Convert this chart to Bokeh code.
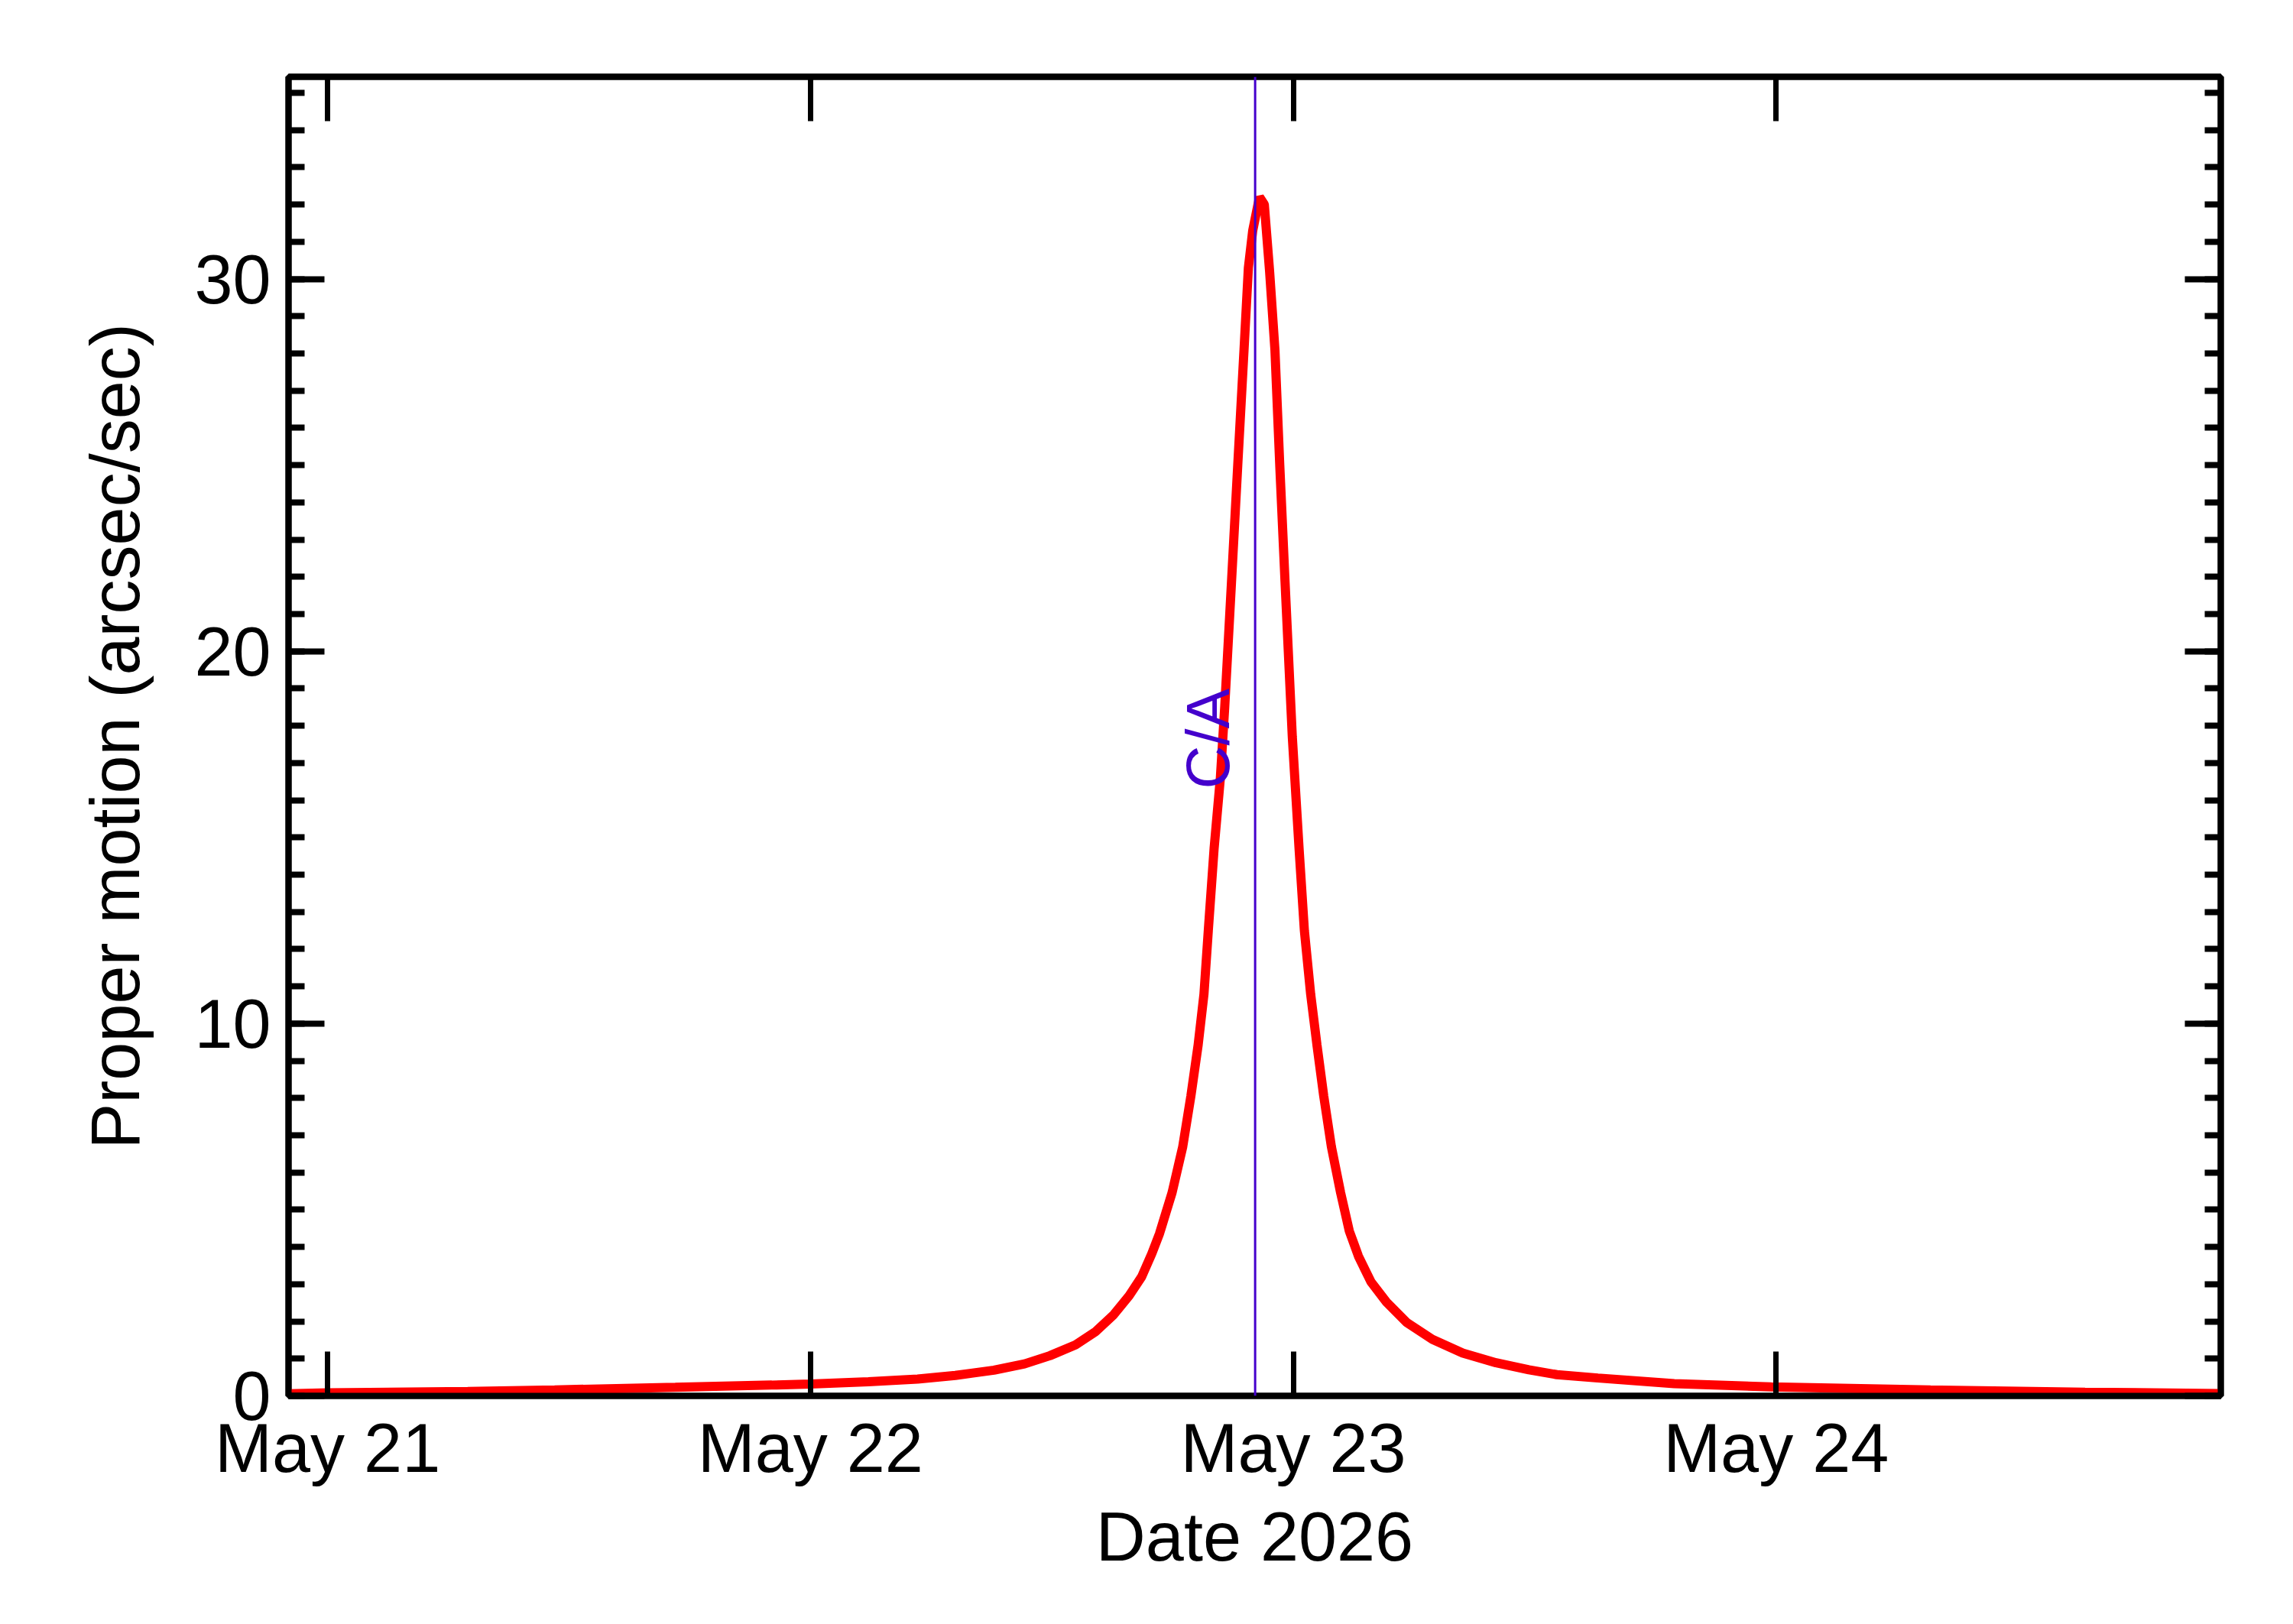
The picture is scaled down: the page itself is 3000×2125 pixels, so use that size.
from bokeh.plotting import figure
from bokeh.models import (Range1d, LinearAxis, SingleIntervalTicker, FixedTicker,
                          Span, Label, CustomLabelingPolicy)
from bokeh.embed import file_html
from bokeh.resources import INLINE

# days since 2026-05-21 00:00 and proper motion (arcsec/sec)
days = [-0.081, 0.0, 0.29, 0.47, 0.72, 0.92, 1.0, 1.12, 1.222, 1.30, 1.38,
        1.4435, 1.496, 1.549, 1.591, 1.628, 1.660, 1.686, 1.707, 1.723, 1.736,
        1.749, 1.771, 1.788, 1.803, 1.815, 1.824, 1.836, 1.849, 1.858, 1.872,
        1.885, 1.898, 1.907, 1.916, 1.930, 1.940, 1.951, 1.962, 1.972, 1.983,
        1.998, 2.012, 2.023, 2.036, 2.049, 2.063, 2.079, 2.098, 2.116, 2.135,
        2.161, 2.193, 2.235, 2.288, 2.351, 2.420, 2.488, 2.546, 2.631, 2.789,
        2.99, 3.32, 3.64, 3.921]
motion = [0.055, 0.08, 0.12, 0.16, 0.23, 0.29, 0.32, 0.38, 0.45, 0.55, 0.69,
          0.86, 1.08, 1.37, 1.73, 2.18, 2.69, 3.20, 3.82, 4.36, 4.91,
          5.46, 6.69, 8.06, 9.43, 10.79, 12.5, 14.7, 16.6, 18.5, 21.85,
          25.0, 28.1, 30.3, 31.3, 32.2, 32.0, 30.2, 28.1, 25.0, 21.85,
          17.7, 14.7, 12.5, 10.79, 9.43, 8.06, 6.69, 5.46, 4.43, 3.75,
          3.06, 2.52, 1.97, 1.52, 1.15, 0.89, 0.70, 0.57, 0.48, 0.33,
          0.24, 0.16, 0.10, 0.06]

day_ticks = [0, 1, 2, 3]
day_labels = ["May 21", "May 22", "May 23", "May 24"]
ca_day = 1.921   # close approach
ca_text = "C/A"

FONT = "Liberation Sans"
FS = "90px"
CA_COLOR = "#4400CC"

p = figure(width=3000, height=2125,
           x_range=Range1d(-0.081, 3.921), y_range=Range1d(0, 35.43),
           output_backend="svg", toolbar_location=None,
           min_border_left=377, min_border_right=95,
           min_border_top=100, min_border_bottom=299)

p.xgrid.grid_line_color = None
p.ygrid.grid_line_color = None
p.outline_line_color = "black"
p.outline_line_width = 8
p.background_fill_color = "white"
p.border_fill_color = "white"

xticker = FixedTicker(ticks=day_ticks, minor_ticks=[])
yticker = SingleIntervalTicker(interval=10, num_minor_ticks=10)

p.xaxis.ticker = xticker
p.xaxis.major_label_overrides = dict(zip(day_ticks, day_labels))
p.yaxis.ticker = yticker

p.xaxis.axis_label = "Date 2026"
p.yaxis.axis_label = "Proper motion (arcsec/sec)"

# mirror axes on top and right: ticks only, no labels drawn
no_labels = CustomLabelingPolicy(code="for (const i of indices) indices.unset(i)")
top = LinearAxis(ticker=xticker, major_label_policy=no_labels)
right = LinearAxis(ticker=yticker, major_label_policy=no_labels)
p.add_layout(top, "above")
p.add_layout(right, "right")

for ax in p.xaxis:
    ax.major_tick_in = 58
    ax.major_tick_out = 0
    ax.minor_tick_in = 0
    ax.minor_tick_out = 0
    ax.major_tick_line_width = 7
for ax in p.yaxis:
    ax.major_tick_in = 47
    ax.major_tick_out = 0
    ax.minor_tick_in = 21
    ax.minor_tick_out = 0
    ax.major_tick_line_width = 8
    ax.minor_tick_line_width = 8
for ax in list(p.xaxis) + list(p.yaxis):
    ax.axis_line_width = 8
    ax.axis_line_color = "black"
    ax.major_tick_line_color = "black"
    ax.minor_tick_line_color = "black"
    ax.major_label_text_font = FONT
    ax.major_label_text_font_size = FS
    ax.major_label_text_color = "black"
    ax.axis_label_text_font = FONT
    ax.axis_label_text_font_size = FS
    ax.axis_label_text_font_style = "normal"
    ax.axis_label_text_color = "black"

top.major_label_text_font_size = "0px"
right.major_label_text_font_size = "0px"

p.below[0].major_label_standoff = 18
p.below[0].axis_label_standoff = 13
p.left[0].major_label_standoff = 23
p.left[0].axis_label_standoff = 50

p.line(days, motion, line_color="#FF0000", line_width=12)

p.add_layout(Span(location=ca_day, dimension="height",
                  line_color=CA_COLOR, line_width=3))
p.add_layout(Label(x=ca_day, y=16.3, x_offset=-62, text=ca_text,
                   angle=90, angle_units="deg",
                   text_align="left", text_baseline="alphabetic",
                   text_font=FONT, text_font_size="79px", text_color=CA_COLOR))

open("out.html", "w").write(file_html(p, INLINE))
